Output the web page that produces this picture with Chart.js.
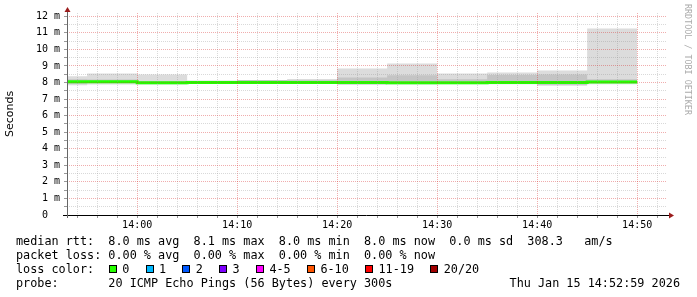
<!DOCTYPE html>
<html>
<head>
<meta charset="utf-8">
<script src="https://cdn.jsdelivr.net/npm/chart.js@4"></script>
<style>
  html, body { margin: 0; padding: 0; background: #fff; }
  #wrap { position: relative; width: 697px; height: 297px; overflow: hidden; }
  #chart { position: absolute; left: 0; top: 0; }
  .line { position: absolute; left: 16px; font-family: 'DejaVu Sans Mono', monospace; font-size: 11.8px; line-height: 14px; white-space: pre; color: #000; }
  .sq { position: absolute; width: 6px; height: 6px; border: 1px solid #000; }
  .lbl { position: absolute; font-family: 'DejaVu Sans Mono', monospace; font-size: 11.8px; line-height: 14px; white-space: pre; }
  #credit { position: absolute; left: 683px; top: 4px; writing-mode: vertical-rl; font-family: 'DejaVu Sans Mono', monospace; font-size: 8.4px; color: #ababab; white-space: pre; }
</style>
</head>
<body>
<div id="wrap">
  <canvas id="chart" width="697" height="297"></canvas>
  <div id="credit">RRDTOOL / TOBI OETIKER</div>
  <div id="legend"></div>
</div>
<script>
// bornes des intervalles de 5 min (le premier est partiel)
const times = ['13:52:59','13:55','14:00','14:05','14:10','14:15','14:20','14:25','14:30','14:35','14:40','14:45','14:50'];
const xStart = '13:52:59';
const xEnd = '14:52:59';

// fumée (ms) : enveloppe min/max, bande interne, médiane
const rttMax    = [8.38, 8.55, 8.48, 8.12, 8.15, 8.22, 8.85, 9.15, 8.55, 8.60, 8.73, 11.27];
const rttUpper  = [8.20, 8.18, 8.10, 8.08, 8.16, 8.14, 8.30, 8.44, 8.20, 8.45, 8.48, 8.20];
const rttLower  = [7.92, 7.98, 7.94, 7.95, 7.96, 7.95, 7.92, 7.92, 7.94, 7.95, 7.86, 7.97];
const rttMin    = [7.84, 7.88, 7.88, 7.92, 7.93, 7.92, 7.85, 7.88, 7.90, 7.90, 7.80, 7.90];
const rttMedian = [8.05, 8.05, 7.99, 8.00, 8.00, 8.00, 8.00, 7.98, 7.98, 8.01, 8.01, 8.04];

const yTickMax = 12;

const rttStats = ['8.0', '8.1', '8.0', '8.0', '0.0'];   // avg max min now sd
const amps = '308.3';
const lossStats = ['0.00', '0.00', '0.00', '0.00'];    // avg max min now
const lossLabels = ['0', '1', '2', '3', '4-5', '6-10', '11-19', '20/20'];
const lossColors = ['#26ff00', '#00b8ff', '#0059ff', '#7e00ff', '#ff00ff', '#ff5500', '#ff0000', '#a10000'];
const probeText = '20 ICMP Echo Pings (56 Bytes) every 300s';
const dateText = 'Thu Jan 15 14:52:59 2026';

function toMin(t) {
  const p = t.split(':').map(Number);
  return (p[0] - 13) * 60 + p[1] + (p[2] || 0) / 60;
}

function steps(values) {
  const pts = values.map((v, i) => ({ x: toMin(times[i]), y: v }));
  pts.push({ x: toMin(times[times.length - 1]), y: values[values.length - 1] });
  return pts;
}

const xMin = toMin(xStart);
const xMax = toMin(xEnd);

const xTicks = [];
for (let m = Math.ceil(xMin / 2) * 2; m <= xMax; m += 2) xTicks.push(m);
const yTicks = [];
for (let v = 0; v <= yTickMax; v += 0.5) yTicks.push(v);

const MAJOR = 'rgba(215,40,40,0.38)';
const MINOR = 'rgba(150,150,150,0.36)';

const arrows = {
  id: 'arrows',
  afterDraw(chart) {
    const { ctx, chartArea: a } = chart;
    ctx.save();
    ctx.strokeStyle = '#000';
    ctx.lineWidth = 1;
    ctx.beginPath();
    ctx.moveTo(a.left - 4, a.bottom + 0.5);
    ctx.lineTo(a.right + 3, a.bottom + 0.5);
    ctx.stroke();
    ctx.strokeStyle = '#666';
    ctx.beginPath();
    ctx.moveTo(a.left + 0.5, a.top - 3);
    ctx.lineTo(a.left + 0.5, a.bottom + 3);
    ctx.stroke();
    ctx.fillStyle = '#9b1c1c';
    ctx.beginPath();
    ctx.moveTo(a.left + 0.5, a.top - 6);
    ctx.lineTo(a.left - 2.5, a.top - 1);
    ctx.lineTo(a.left + 3.5, a.top - 1);
    ctx.closePath();
    ctx.fill();
    ctx.beginPath();
    ctx.moveTo(a.right + 7, a.bottom + 0.5);
    ctx.lineTo(a.right + 2, a.bottom - 2.5);
    ctx.lineTo(a.right + 2, a.bottom + 3.5);
    ctx.closePath();
    ctx.fill();
    ctx.restore();
  }
};

const line = (data, extra) => Object.assign({
  data: steps(data),
  stepped: true,
  pointRadius: 0,
  borderWidth: 0,
  borderColor: 'transparent',
  fill: false
}, extra);

new Chart(document.getElementById('chart').getContext('2d'), {
  type: 'line',
  data: {
    datasets: [
      line(rttMedian, { borderColor: '#22ff00', borderWidth: 3 }),
      line(rttUpper, { fill: '+1', backgroundColor: '#c4c4c4' }),
      line(rttLower),
      line(rttMax, { fill: '+1', backgroundColor: '#dcdcdc' }),
      line(rttMin)
    ]
  },
  options: {
    responsive: false,
    animation: false,
    layout: { padding: { left: 0, right: 30, top: 13, bottom: 62 } },
    plugins: { legend: { display: false }, tooltip: { enabled: false } },
    scales: {
      x: {
        type: 'linear',
        min: xMin,
        max: xMax,
        afterFit(s) { s.height = 20; },
        afterBuildTicks(s) { s.ticks = xTicks.map(v => ({ value: v })); },
        ticks: {
          autoSkip: false, maxRotation: 0, minRotation: 0, padding: 1,
          color: '#000', font: { family: 'DejaVu Sans Mono', size: 10 },
          callback(v) {
            if (v % 10 !== 0) return '';
            const h = 13 + Math.floor(v / 60), m = v % 60;
            return h + ':' + String(m).padStart(2, '0');
          }
        },
        grid: {
          z: 1, lineWidth: 1, tickLength: 3,
          color: c => (c.tick && c.tick.value % 10 === 0) ? MAJOR : MINOR,
          tickColor: '#999'
        },
        border: { display: false, dash: [1, 1] }
      },
      y: {
        min: 0,
        max: 12.2,
        afterFit(s) { s.width = 67; },
        afterBuildTicks(s) { s.ticks = yTicks.map(v => ({ value: v })); },
        ticks: {
          autoSkip: false, padding: 4,
          color: '#000', font: { family: 'DejaVu Sans Mono', size: 10 },
          callback(v) {
            if (v % 1 !== 0) return '';
            return v === 0 ? '0  ' : v + ' m';
          }
        },
        title: {
          display: true, text: 'Seconds', color: '#000',
          font: { family: 'DejaVu Sans', size: 11 },
          padding: { top: 4, bottom: 0 }
        },
        grid: {
          z: 1, lineWidth: 1, tickLength: 3,
          color: c => (c.tick && c.tick.value % 1 === 0) ? MAJOR : MINOR,
          tickColor: '#999'
        },
        border: { display: false, dash: [1, 1] }
      }
    }
  },
  plugins: [arrows]
});

// légende texte façon smokeping
const legend = document.getElementById('legend');
const CW = 7.1;
function addLine(top, text) {
  const d = document.createElement('div');
  d.className = 'line';
  d.style.top = top + 'px';
  d.textContent = text;
  legend.appendChild(d);
  return d;
}
addLine(234, `median rtt:  ${rttStats[0]} ms avg  ${rttStats[1]} ms max  ${rttStats[2]} ms min  ${rttStats[3]} ms now  ${rttStats[4]} ms sd  ${amps}   am/s`);
addLine(248, `packet loss: ${lossStats[0]} % avg  ${lossStats[1]} % max  ${lossStats[2]} % min  ${lossStats[3]} % now`);
addLine(262, 'loss color:');
addLine(276, `probe:       ${probeText}`);

let sx = 108.7;
lossLabels.forEach((lab, i) => {
  const s = document.createElement('div');
  s.className = 'sq';
  s.style.left = sx + 'px';
  s.style.top = '265px';
  s.style.background = lossColors[i];
  legend.appendChild(s);
  const l = document.createElement('div');
  l.className = 'lbl';
  l.style.left = (sx + 13.5) + 'px';
  l.style.top = '262px';
  l.textContent = lab;
  legend.appendChild(l);
  sx += (lab.length + 4) * CW + 1.3;
});

const dt = document.createElement('div');
dt.className = 'lbl';
dt.style.right = '17px';
dt.style.top = '276px';
dt.textContent = dateText;
legend.appendChild(dt);
</script>
</body>
</html>
